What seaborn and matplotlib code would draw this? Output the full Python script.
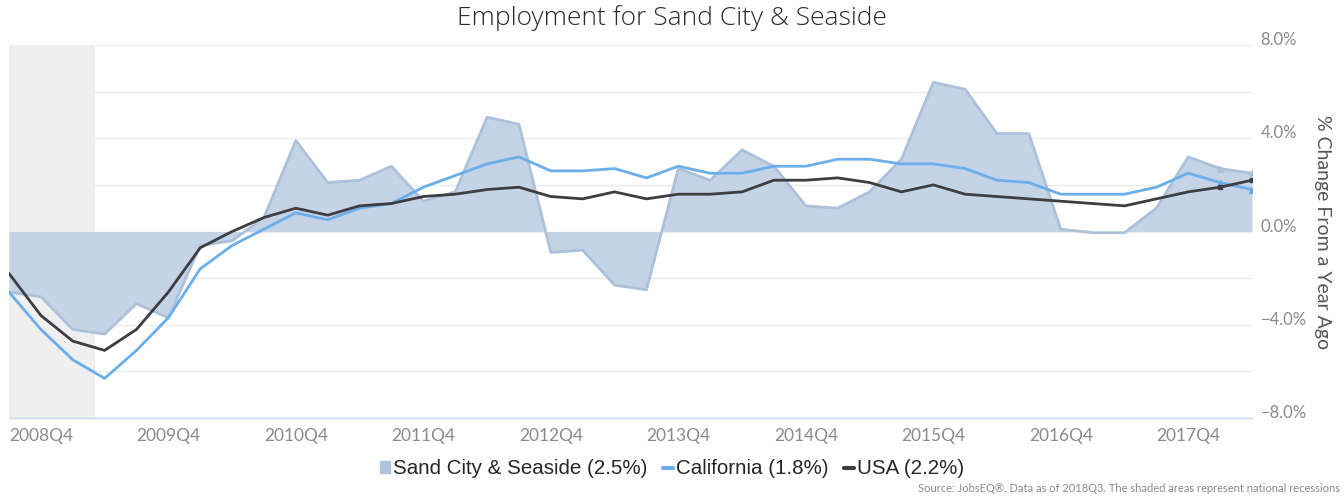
import matplotlib
matplotlib.use("Agg")
import matplotlib.pyplot as plt
from matplotlib.patches import Patch
from matplotlib.lines import Line2D
import numpy as np
import pandas as pd
import seaborn as sns

# quarterly series, 2008Q4 .. 2018Q3 (% change from a year ago)
quarters = [str(p) for p in pd.period_range("2008Q4", periods=40, freq="Q")]
sand_city = [-2.6, -2.8, -4.2, -4.4, -3.1, -3.7, -0.6, -0.4, 0.6, 3.9,
             2.1, 2.2, 2.8, 1.3, 1.7, 4.9, 4.6, -0.9, -0.8, -2.3,
             -2.5, 2.7, 2.2, 3.5, 2.8, 1.1, 1.0, 1.7, 3.1, 6.4,
             6.1, 4.2, 4.2, 0.1, -0.05, -0.05, 1.0, 3.2, 2.7, 2.5]
california = [-2.6, -4.2, -5.5, -6.3, -5.1, -3.7, -1.6, -0.6, 0.1, 0.8,
              0.5, 1.0, 1.2, 1.9, 2.4, 2.9, 3.2, 2.6, 2.6, 2.7,
              2.3, 2.8, 2.5, 2.5, 2.8, 2.8, 3.1, 3.1, 2.9, 2.9,
              2.7, 2.2, 2.1, 1.6, 1.6, 1.6, 1.9, 2.5, 2.1, 1.8]
usa = [-1.8, -3.6, -4.7, -5.1, -4.2, -2.6, -0.7, 0.0, 0.6, 1.0,
       0.7, 1.1, 1.2, 1.5, 1.6, 1.8, 1.9, 1.5, 1.4, 1.7,
       1.4, 1.6, 1.6, 1.7, 2.2, 2.2, 2.3, 2.1, 1.7, 2.0,
       1.6, 1.5, 1.4, 1.3, 1.2, 1.1, 1.4, 1.7, 1.9, 2.2]
tick_labels = ["2008Q4", "2009Q4", "2010Q4", "2011Q4", "2012Q4",
               "2013Q4", "2014Q4", "2015Q4", "2016Q4", "2017Q4"]
y_ticks = [8, 4, 0, -4, -8]
legend_labels = ["Sand City & Seaside (2.5%)", "California (1.8%)", "USA (2.2%)"]

df = pd.DataFrame({"idx": np.arange(len(quarters)), "quarter": quarters,
                   "Sand City & Seaside": sand_city, "California": california,
                   "USA": usa})

sns.set_style("white")
plt.rcParams["font.family"] = ["Lato", "DejaVu Sans"]

area_fill = "#c4d3e6"
area_edge = "#adc1da"
ca_col = "#6aaeea"
us_col = "#3d3d42"

fig = plt.figure(figsize=(13.44, 4.96), dpi=100)
ax = fig.add_axes([9 / 1344, 1 - 418 / 496, (1252 - 9) / 1344, (418 - 45) / 496])

# grid lines every 2%
for g in np.arange(-8, 9, 2):
    ax.axhline(g, color="#ececec", lw=1, zorder=0)

# recession band
ax.axvspan(-0.1, 2.7, color="#efefef", zorder=1, lw=0)

ax.fill_between(df["idx"], df["Sand City & Seaside"], 0, color=area_fill,
                lw=0, zorder=2)
sns.lineplot(data=df, x="idx", y="Sand City & Seaside", ax=ax, color=area_edge,
             lw=2, zorder=3)
sns.lineplot(data=df, x="idx", y="California", ax=ax, color=ca_col, lw=2,
             zorder=4)
sns.lineplot(data=df, x="idx", y="USA", ax=ax, color=us_col, lw=2, zorder=5)

# small markers on the latest two quarters
last = df.tail(2)
ax.plot(last["idx"], last["Sand City & Seaside"], ls="none", marker="^",
        ms=4, color=area_edge, zorder=3)
ax.plot(last["idx"], last["California"], ls="none", marker="^", ms=4,
        color=ca_col, zorder=4)
ax.plot(last["idx"], last["USA"], ls="none", marker="s", ms=3.5,
        color=us_col, zorder=5)

ax.set_xlim(0, len(quarters) - 1)
ax.set_ylim(-8, 8)

tick_pos = df["idx"][df["quarter"].isin(tick_labels)].tolist()
ax.set_xticks(tick_pos)
ax.set_xticklabels(tick_labels, ha="left", fontsize=12.5, color="#8a8a8a")
ax.tick_params(axis="x", length=5, width=1, color="#ccd6eb", pad=2,
               direction="out")
for lab in ax.get_xticklabels():
    lab.set_horizontalalignment("left")

ax.yaxis.tick_right()
ax.set_yticks(y_ticks)
ax.set_yticklabels([f"{v:.1f}%".replace("-", "\u2212") for v in y_ticks],
                   fontsize=12, color="#8a8a8a")
for lab in ax.get_yticklabels():
    lab.set_verticalalignment("baseline")
ax.tick_params(axis="y", length=0, pad=6)

ax.set_xlabel("")
ax.set_ylabel("")
sns.despine(ax=ax, left=True, top=True, right=True)
ax.spines["bottom"].set_color("#ccd6eb")
ax.spines["bottom"].set_linewidth(1)

fig.text(1322 / 1344, 1 - 232 / 496, "% Change From a Year Ago", rotation=270,
         ha="center", va="center", fontsize=14, color="#555555")

fig.text(0.5, 1 - 18 / 496, "Employment for Sand City & Seaside", ha="center",
         va="center", fontsize=19, color="#2a2a2a",
         family=["Open Sans", "DejaVu Sans"], fontweight="light")

handles = [Patch(color="#b0c4de"),
           Line2D([0], [0], color=ca_col, lw=3),
           Line2D([0], [0], color=us_col, lw=3)]
fig.legend(handles, legend_labels, loc="center",
           bbox_to_anchor=(672 / 1344, 1 - 469 / 496),
           ncol=3, frameon=False, handlelength=0.5, handleheight=0.5,
           handletextpad=0.15, columnspacing=0.75,
           prop={"family": "Liberation Sans", "size": 14.8})

fig.text(1340 / 1344, 1 - 489 / 496,
         "Source: JobsEQ\u00ae. Data as of 2018Q3. The shaded areas represent national recessions",
         ha="right", va="center", fontsize=8, color="#8a8a8a")

fig.savefig("out.png", dpi=100)
